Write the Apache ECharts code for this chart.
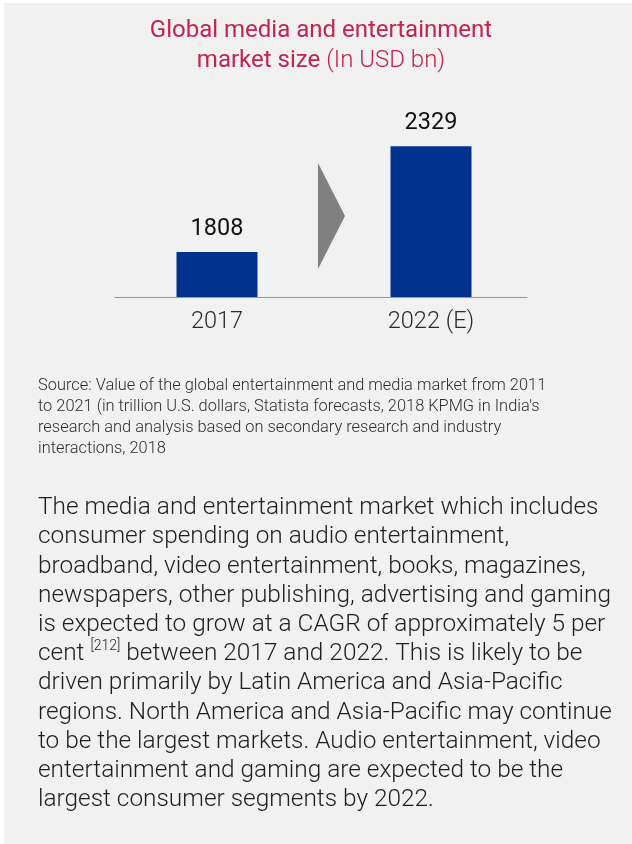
<!DOCTYPE html>
<html>
<head>
<meta charset="utf-8">
<script src="https://cdn.jsdelivr.net/npm/echarts@6/dist/echarts.min.js"></script>
<style>
html,body{margin:0;padding:0;background:#ffffff;}
#chart{width:632px;height:844px;}
</style>
</head>
<body>
<div id="chart"></div>
<script>
const categories = ['2017', '2022 (E)'];
const marketSize = [1808, 2329];
const titleLine1 = 'Global media and entertainment';
const titleLine2 = 'market size';
const titleUnit = '(In USD bn)';
const sourceLines = [
  'Source: Value of the global entertainment and media market from 2011',
  "to 2021 (in trillion U.S. dollars, Statista forecasts, 2018 KPMG in India's",
  'research and analysis based on secondary research and industry',
  'interactions, 2018'
];
const bodyLines = [
  'The media and entertainment market which includes',
  'consumer spending on audio entertainment,',
  'broadband, video entertainment, books, magazines,',
  'newspapers, other publishing, advertising and gaming',
  'is expected to grow at a CAGR of approximately 5 per',
  'cent {s|[212]} between 2017 and 2022. This is likely to be',
  'driven primarily by Latin America and Asia-Pacific',
  'regions. North America and Asia-Pacific may continue',
  'to be the largest markets. Audio entertainment, video',
  'entertainment and gaming are expected to be the',
  'largest consumer segments by 2022.'
];

const FONT = 'Roboto, "Liberation Sans", sans-serif';
const TITLE_COLOR = '#c5224f';
const chart = echarts.init(document.getElementById('chart'), null, {renderer: 'canvas'});

chart.setOption({
  backgroundColor: '#ffffff',
  animation: false,
  title: [
    {
      text: titleLine1,
      left: 321,
      textAlign: 'center',
      top: 15.5,
      padding: 0,
      textStyle: {fontFamily: FONT, fontSize: 24, lineHeight: 30, color: TITLE_COLOR, fontWeight: 400}
    },
    {
      text: '{a|' + titleLine2 + ' }{b|' + titleUnit + '}',
      left: 321,
      textAlign: 'center',
      top: 45.5,
      padding: 0,
      textStyle: {
        fontFamily: FONT, fontSize: 24, lineHeight: 30, color: TITLE_COLOR,
        rich: {
          a: {fontFamily: FONT, fontSize: 24, lineHeight: 30, color: TITLE_COLOR, fontWeight: 400},
          b: {fontFamily: FONT, fontSize: 24, lineHeight: 30, color: TITLE_COLOR, fontWeight: 300}
        }
      }
    },
    {
      text: sourceLines.join('\n'),
      left: 38,
      top: 375.5,
      padding: 0,
      textStyle: {fontFamily: FONT, fontSize: 16.4, lineHeight: 21, fontWeight: 300, color: '#2e2e2e'}
    },
    {
      text: bodyLines.join('\n'),
      left: 38,
      top: 493.5,
      padding: 0,
      textStyle: {
        fontFamily: FONT,
        fontSize: 24.4,
        lineHeight: 29.2,
        fontWeight: 300,
        color: '#1e1e1e',
        rich: {
          s: {fontFamily: FONT, fontSize: 14, fontWeight: 300, color: '#1e1e1e', verticalAlign: 'top', lineHeight: 22}
        }
      }
    }
  ],
  graphic: [
    {
      type: 'rect',
      z: -10,
      silent: true,
      shape: {x: 4, y: 3, width: 628, height: 841},
      style: {fill: '#f1f1f1'}
    },
    {
      type: 'polygon',
      z: 5,
      silent: true,
      shape: {points: [[318, 163], [345, 216], [318, 269]]},
      style: {fill: '#808080'}
    }
  ],
  grid: [
    {left: 110, right: 94, top: 100, bottom: 547},
    {left: 115, right: 105, top: 100, bottom: 547}
  ],
  xAxis: [
    {
      type: 'category',
      gridIndex: 0,
      data: categories,
      axisLine: {show: false},
      axisTick: {show: false},
      axisLabel: {fontFamily: FONT, fontSize: 23.5, fontWeight: 300, color: '#2a2a2a', margin: 13}
    },
    {
      type: 'category',
      gridIndex: 1,
      data: categories,
      axisLine: {show: true, lineStyle: {color: '#999999', width: 1}},
      axisTick: {show: false},
      axisLabel: {show: false}
    }
  ],
  yAxis: [
    {type: 'value', gridIndex: 0, min: 1587, max: 2557, show: false, splitLine: {show: false}},
    {type: 'value', gridIndex: 1, min: 0, max: 1, show: false, splitLine: {show: false}}
  ],
  series: [
    {
      type: 'bar',
      xAxisIndex: 0,
      yAxisIndex: 0,
      data: marketSize,
      barWidth: 81,
      itemStyle: {color: '#00338d'},
      label: {
        show: true,
        position: 'top',
        distance: 11,
        fontFamily: FONT,
        fontSize: 23.5,
        fontWeight: 400,
        color: '#111111'
      }
    }
  ]
});
</script>
</body>
</html>
